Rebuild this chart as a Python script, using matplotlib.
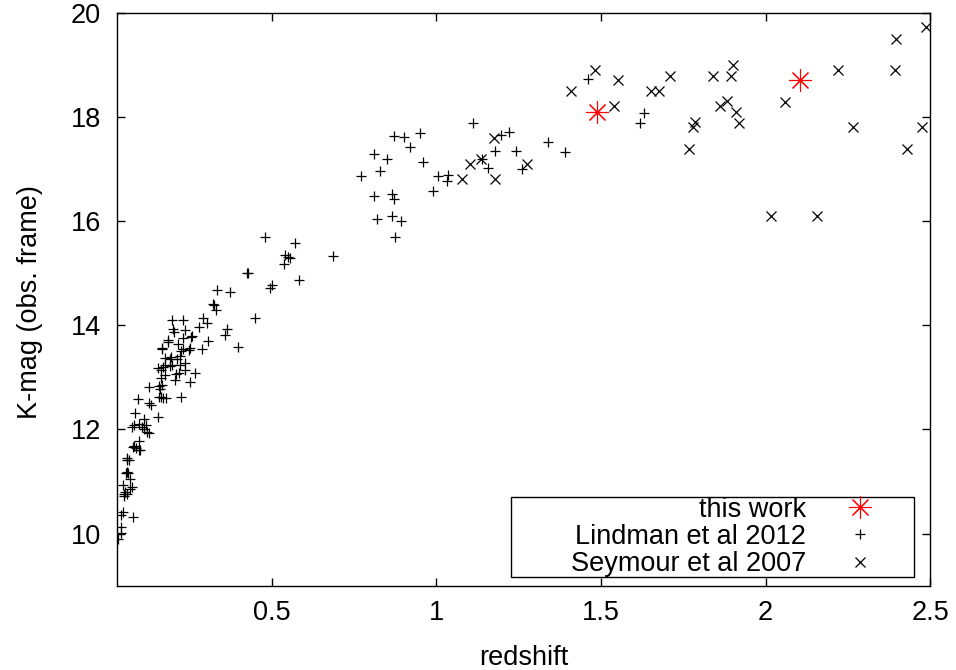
import matplotlib
matplotlib.use('Agg')
import matplotlib.pyplot as plt

plt.rcParams['font.family'] = ['Liberation Sans', 'DejaVu Sans']

# ---- data (redshift, K-mag) ----
this_z = [1.487, 2.104]
this_k = [18.10, 18.70]

lind_z = [1.461, 1.631, 1.619, 1.390,
          1.110, 0.871, 0.901, 0.951, 0.920, 1.197, 1.221, 0.811, 0.851, 1.178,
          1.241, 1.340, 0.958, 0.830, 0.770, 1.004, 1.036, 1.032, 1.156, 1.260,
          1.138, 0.811, 0.866, 0.871, 0.990, 0.820, 0.866, 0.891, 0.874, 0.686,
          0.478, 0.571, 0.554,
          0.540, 0.549, 0.538, 0.584, 0.425, 0.428, 0.502, 0.495, 0.333, 0.374,
          0.321, 0.326, 0.330, 0.450, 0.292, 0.303, 0.196, 0.231, 0.279, 0.200,
          0.203, 0.237, 0.363, 0.358, 0.259, 0.255, 0.229, 0.186, 0.184, 0.306,
          0.216, 0.167, 0.166, 0.253, 0.250, 0.230, 0.224, 0.289, 0.398, 0.177,
          0.195, 0.192, 0.220, 0.213, 0.175, 0.197, 0.222, 0.236, 0.191, 0.155,
          0.169, 0.165, 0.235, 0.218, 0.210, 0.266, 0.175, 0.164, 0.206, 0.252,
          0.128, 0.158, 0.168, 0.161, 0.164, 0.171, 0.179, 0.159, 0.225, 0.095,
          0.128, 0.132, 0.085, 0.113, 0.153, 0.074, 0.081, 0.098, 0.105, 0.118,
          0.111, 0.121, 0.127, 0.097, 0.083, 0.079, 0.087, 0.096, 0.101, 0.060,
          0.059, 0.066, 0.061, 0.064, 0.058, 0.068, 0.048, 0.076, 0.069, 0.054,
          0.051, 0.059, 0.052, 0.048, 0.042, 0.078, 0.043, 0.042, 0.034]
lind_k = [18.72, 18.07, 17.88, 17.33,
          17.88, 17.64, 17.61, 17.70, 17.42, 17.65, 17.71, 17.28, 17.20, 17.35,
          17.35, 17.51, 17.14, 16.96, 16.86, 16.87, 16.89, 16.76, 17.01, 17.00,
          17.20, 16.48, 16.52, 16.42, 16.58, 16.04, 16.09, 16.00, 15.69, 15.33,
          15.70, 15.57, 15.30,
          15.35, 15.31, 15.18, 14.86, 15.01, 15.00, 14.78, 14.72, 14.67, 14.64,
          14.41, 14.38, 14.30, 14.13, 14.13, 14.04, 14.10, 14.10, 13.96, 13.93,
          13.87, 13.90, 13.92, 13.81, 13.79, 13.78, 13.75, 13.71, 13.67, 13.69,
          13.64, 13.56, 13.54, 13.56, 13.53, 13.54, 13.51, 13.54, 13.58, 13.37,
          13.40, 13.35, 13.41, 13.35, 13.24, 13.24, 13.23, 13.28, 13.22, 13.18,
          13.19, 13.15, 13.14, 13.09, 13.07, 13.09, 13.04, 12.99, 12.95, 12.91,
          12.82, 12.83, 12.85, 12.78, 12.63, 12.61, 12.60, 12.63, 12.63, 12.59,
          12.51, 12.47, 12.31, 12.21, 12.24, 12.04, 12.08, 12.10, 12.04, 12.08,
          12.00, 11.96, 11.93, 11.77, 11.69, 11.66, 11.64, 11.60, 11.60, 11.46,
          11.42, 11.41, 11.18, 11.16, 11.16, 11.05, 10.94, 10.90, 10.85, 10.80,
          10.76, 10.76, 10.72, 10.42, 10.36, 10.31, 10.12, 10.01, 9.89]

sey_z = [2.486, 2.396, 1.900, 1.481, 2.219, 2.394, 1.711, 1.840, 1.895, 1.553,
         1.410, 1.652, 1.677, 2.060, 1.884, 1.862, 1.540, 1.911, 1.786, 1.780,
         1.920, 2.265, 2.475, 1.768, 2.428, 2.016, 2.156,
         1.174, 1.101, 1.134, 1.079, 1.177, 1.275]
sey_k = [19.72, 19.49, 18.99, 18.90, 18.90, 18.90, 18.79, 18.79, 18.79, 18.70,
         18.49, 18.49, 18.49, 18.29, 18.31, 18.20, 18.20, 18.10, 17.90, 17.80,
         17.89, 17.80, 17.80, 17.39, 17.39, 16.10, 16.10,
         17.59, 17.10, 17.20, 16.80, 16.80, 17.09]

labels = ['this work', 'Lindman et al 2012', 'Seymour et al 2007']
xticks = [0.5, 1, 1.5, 2, 2.5]
xticklabels = ['0.5', '1', '1.5', '2', '2.5']
yticks = [10, 12, 14, 16, 18, 20]

FS = 19.5

fig = plt.figure(figsize=(9.56, 6.7), dpi=100)
ax = fig.add_axes([0.1224, 0.1258, 0.9731 - 0.1224, 0.9810 - 0.1258])

ax.plot(this_z, this_k, ls='none', marker=(8, 2, 0), ms=16, mew=0.8,
        color='red', label=labels[0])
ax.plot(lind_z, lind_k, ls='none', marker='+', ms=7, mew=0.9,
        color='black', label=labels[1])
ax.plot(sey_z, sey_k, ls='none', marker='x', ms=7, mew=0.9,
        color='black', label=labels[2])

ax.set_xlim(0.03, 2.5)
ax.set_ylim(9, 20)
ax.set_xticks(xticks)
ax.set_xticklabels(xticklabels)
ax.set_yticks(yticks)
ax.tick_params(direction='in', length=6, width=1, top=True, right=True,
               labelsize=FS, colors='black')
ax.tick_params(axis='x', pad=10)
ax.tick_params(axis='y', pad=11.5)
for s in ax.spines.values():
    s.set_linewidth(1.0)
    s.set_color('black')

fig.text(523.5 / 956, 1 - 665 / 670, 'redshift', ha='center', va='baseline',
         fontsize=FS)
fig.text(30 / 956, 1 - 302 / 670, 'K-mag (obs. frame)', ha='center',
         va='center', rotation=90, fontsize=FS)

handles, labs = ax.get_legend_handles_labels()
labs = ['        ' + l for l in labs]
leg = ax.legend(handles, labs, loc='lower right',
                bbox_to_anchor=(0.9803, 0.0147), borderaxespad=0,
                markerfirst=False, fontsize=FS, handlelength=4.0,
                handletextpad=0.0, borderpad=0.0, labelspacing=0.05,
                fancybox=False, framealpha=1, edgecolor='black')
leg.get_frame().set_linewidth(1.0)

fig.savefig('out.png', dpi=100)
